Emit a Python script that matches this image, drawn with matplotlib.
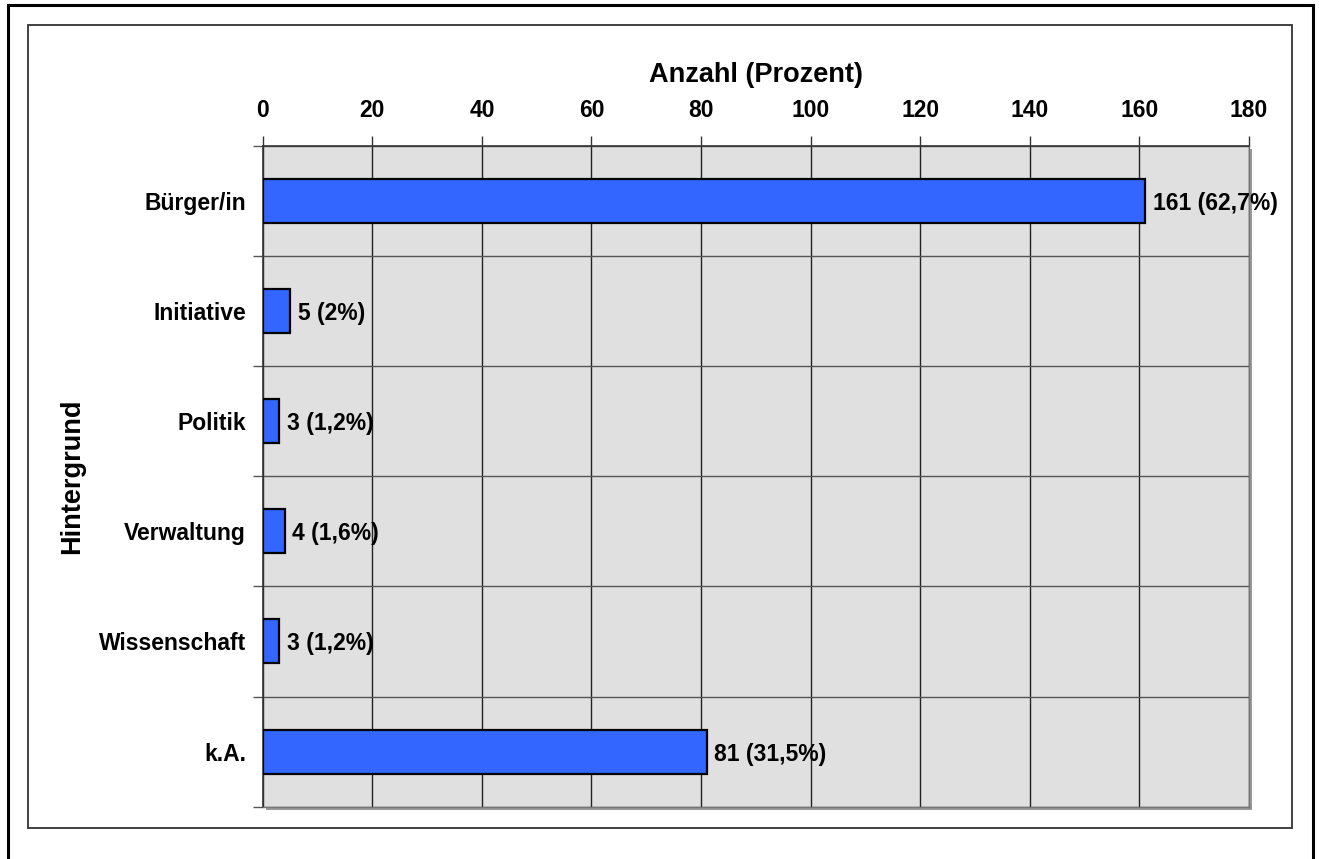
import matplotlib.pyplot as plt
import matplotlib.patches as mpatches
import numpy as np

plt.rcParams['font.family'] = ['Liberation Sans', 'DejaVu Sans']
plt.rcParams['font.weight'] = 'bold'

# Data
categories = ['Bürger/in', 'Initiative', 'Politik', 'Verwaltung', 'Wissenschaft', 'k.A.']
counts = [161, 5, 3, 4, 3, 81]
percents = ['62,7%', '2%', '1,2%', '1,6%', '1,2%', '31,5%']
x_ticks = [0, 20, 40, 60, 80, 100, 120, 140, 160, 180]

W, H = 1319, 859
fig = plt.figure(figsize=(W / 100, H / 100), dpi=100)

# outer frames
fig.patches.append(mpatches.Rectangle((8 / W, -0.05), 1305 / W, 1 - 5 / H + 0.05,
                                      transform=fig.transFigure, fill=False,
                                      edgecolor='black', linewidth=2.2))
fig.patches.append(mpatches.Rectangle((28 / W, 1 - 828 / H), 1264 / W, 803 / H,
                                      transform=fig.transFigure, fill=False,
                                      edgecolor='#333333', linewidth=1.3))

left, right, top, bottom = 262.7, 1249, 145.7, 806.7
ax_rect = [left / W, 1 - bottom / H, (right - left) / W, (bottom - top) / H]

# shadow of plot area
fig.patches.append(mpatches.Rectangle((left / W + 3 / W, 1 - bottom / H - 3 / H),
                                      (right - left) / W, (bottom - top) / H,
                                      transform=fig.transFigure, facecolor='#999999',
                                      edgecolor='none', zorder=-1))

ax = fig.add_axes(ax_rect)
ax.set_zorder(1)
ax.set_facecolor('#E0E0E0')

n = len(categories)
y_pos = np.arange(n) + 0.5
ax.barh(y_pos, counts, height=0.4, color='#3366FF', edgecolor='black', linewidth=1.6, zorder=3)

for y, c, p in zip(y_pos, counts, percents):
    ax.text(c + 1.4, y, f'{c} ({p})', va='center_baseline', ha='left', fontsize=16.5,
            fontweight='bold', zorder=4)

ax.set_xlim(0, 180)
ax.set_ylim(n, 0)
ax.xaxis.tick_top()
ax.xaxis.set_label_position('top')
ax.set_xticks(x_ticks)
ax.set_xticklabels([str(t) for t in x_ticks], fontsize=16.5, fontweight='bold')
ax.tick_params(axis='x', length=7, width=1, color='#333333', pad=10)

ax.set_yticks(y_pos)
ax.set_yticklabels(categories, fontsize=16.5, fontweight='bold')
ax.tick_params(axis='y', which='major', length=0, pad=12)
ax.set_yticks(np.arange(n + 1), minor=True)
ax.tick_params(axis='y', which='minor', length=7, width=1, color='#555555')

ax.grid(axis='x', which='major', color='#222222', linewidth=1, zorder=1)
ax.grid(axis='y', which='minor', color='#555555', linewidth=1, zorder=1)
ax.set_axisbelow(True)

for side in ['left', 'top']:
    ax.spines[side].set_color('#333333')
    ax.spines[side].set_linewidth(1.2)
for side in ['right', 'bottom']:
    ax.spines[side].set_color('#777777')
    ax.spines[side].set_linewidth(1)

ax.set_xlabel('Anzahl (Prozent)', fontsize=19.5, fontweight='bold', labelpad=12)
ax.set_ylabel('Hintergrund', fontsize=19.5, fontweight='bold', labelpad=10)

fig.savefig('out.png', dpi=100)
